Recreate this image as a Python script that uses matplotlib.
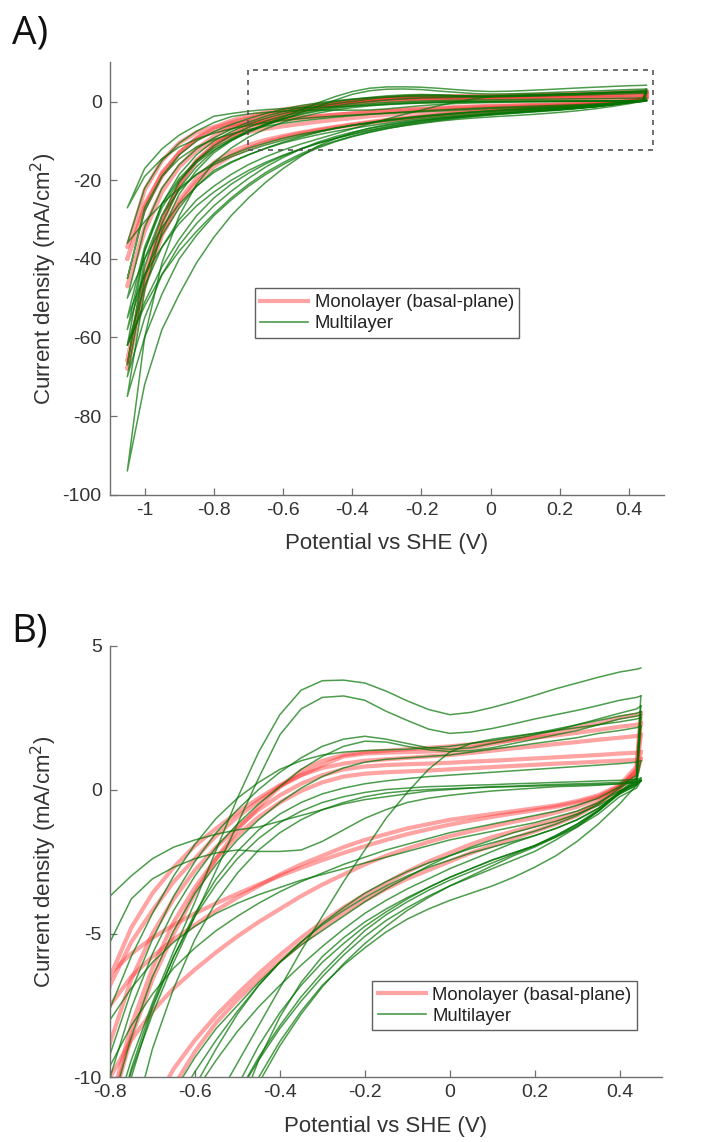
import matplotlib
matplotlib.use('Agg')
import matplotlib.pyplot as plt
from matplotlib.lines import Line2D
from matplotlib.patches import Rectangle

plt.rcParams['font.family'] = ['Liberation Sans', 'DejaVu Sans']
plt.rcParams['axes.unicode_minus'] = False

# potential grid (V vs SHE) shared by every sweep
potential = [-1.05, -1.00, -0.95, -0.90, -0.85, -0.80, -0.75, -0.70, -0.65, -0.60,
             -0.55, -0.50, -0.45, -0.40, -0.35, -0.30, -0.25, -0.20, -0.15, -0.10,
             -0.05, 0.00, 0.05, 0.10, 0.15, 0.20, 0.25, 0.30, 0.35, 0.40, 0.44, 0.45]

# current density (mA/cm2), cathodic (lower) and anodic (upper) branch per CV
mono_lower = [
    [-40, -27, -19, -13, -9.5, -7.5, -6.5, -5.8, -5.2, -4.7, -4.2, -3.75, -3.35, -2.95, -2.6, -2.3,
     -2.0, -1.75, -1.55, -1.35, -1.2, -1.05, -0.95, -0.85, -0.75, -0.65, -0.55, -0.4, -0.2, 0.15, 0.8, 2.65],
    [-47, -32, -22.5, -16.5, -12.5, -10, -8.7, -7.7, -6.9, -6.25, -5.65, -5.1, -4.6, -4.15, -3.7, -3.3,
     -2.95, -2.6, -2.3, -2.05, -1.82, -1.62, -1.45, -1.28, -1.12, -0.98, -0.8, -0.6, -0.3, 0.1, 0.6, 1.3],
    [-66, -45, -33, -25, -19.5, -15.5, -12.8, -11, -9.7, -8.7, -7.85, -7.1, -6.4, -5.75, -5.15, -4.6,
     -4.1, -3.65, -3.25, -2.85, -2.5, -2.2, -1.9, -1.65, -1.45, -1.25, -1.05, -0.8, -0.45, 0.05, 0.5, 1.05],
    [-68, -47, -34, -26, -20.5, -16.5, -13.8, -11.8, -10.3, -9.1, -8.1, -7.3, -6.6, -5.95, -5.35, -4.8,
     -4.3, -3.85, -3.45, -3.1, -2.8, -2.5, -2.2, -1.95, -1.7, -1.45, -1.2, -0.9, -0.5, 0.05, 0.7, 2.3],
    [-37, -22.5, -15, -10.5, -7.8, -6.4, -5.7, -5.15, -4.7, -4.3, -3.95, -3.62, -3.3, -3.0, -2.72, -2.45,
     -2.2, -1.97, -1.75, -1.55, -1.38, -1.22, -1.08, -0.95, -0.83, -0.72, -0.6, -0.45, -0.25, 0.1, 0.6, 1.9],
]
mono_upper = [
    [-40, -27, -18, -13, -9.5, -6.8, -5.3, -4.2, -3.2, -2.4, -1.6, -0.95, -0.4, 0.1, 0.5, 0.85,
     1.15, 1.25, 1.28, 1.3, 1.32, 1.35, 1.45, 1.58, 1.72, 1.86, 2.0, 2.15, 2.3, 2.5, 2.6, 2.65],
    [-47, -33, -23, -16.5, -12, -8.8, -6.6, -5.0, -3.8, -2.8, -2.0, -1.3, -0.7, -0.2, 0.2, 0.5,
     0.7, 0.8, 0.85, 0.88, 0.9, 0.93, 0.97, 1.0, 1.04, 1.08, 1.12, 1.16, 1.2, 1.25, 1.28, 1.3],
    [-66, -44, -30, -21, -15, -11, -8.2, -6.2, -4.6, -3.4, -2.4, -1.6, -0.95, -0.45, -0.05, 0.25,
     0.45, 0.55, 0.6, 0.63, 0.66, 0.7, 0.74, 0.78, 0.82, 0.86, 0.9, 0.93, 0.97, 1.0, 1.03, 1.05],
    [-68, -46, -31, -21, -15, -11.2, -8.6, -6.6, -5.0, -3.6, -2.4, -1.4, -0.6, 0.1, 0.65, 1.0,
     1.2, 1.3, 1.35, 1.4, 1.45, 1.5, 1.57, 1.65, 1.73, 1.8, 1.88, 1.97, 2.07, 2.18, 2.25, 2.3],
    [-37, -26, -18.5, -13, -9.2, -6.5, -4.8, -3.6, -2.7, -1.95, -1.35, -0.8, -0.3, 0.15, 0.5, 0.75,
     0.9, 1.0, 1.05, 1.1, 1.15, 1.2, 1.27, 1.35, 1.43, 1.5, 1.58, 1.65, 1.73, 1.8, 1.86, 1.9],
]

multi_lower = [
    [-55, -44, -37, -31, -26.5, -23, -20, -17.5, -15.4, -13.6, -12, -10.6, -9.4, -8.3, -7.35, -6.5,
     -5.75, -5.1, -4.55, -4.1, -3.7, -3.35, -3.05, -2.75, -2.45, -2.15, -1.75, -1.3, -0.75, -0.1, 0.2, 0.3],
    [-58, -44, -34, -27, -21.5, -17.5, -15.3, -13.5, -11.9, -10.5, -9.4, -8.4, -7.55, -6.8, -6.1, -5.45,
     -4.85, -4.3, -3.85, -3.45, -3.1, -2.75, -2.45, -2.15, -1.85, -1.6, -1.35, -1.05, -0.65, -0.1, 0.4, 3.25],
    [-62, -52, -44, -38, -33, -28.5, -24.5, -21, -18, -15.5, -13.3, -11.5, -10.0, -8.75, -7.7, -6.8,
     -6.1, -5.5, -4.95, -4.5, -4.15, -3.85, -3.6, -3.35, -3.05, -2.7, -2.3, -1.8, -1.2, -0.5, 0.15, 2.5],
    [-27, -19, -14.5, -11.5, -9.5, -8.0, -6.9, -6.0, -5.3, -4.75, -4.3, -3.95, -3.65, -3.4, -3.15, -2.95,
     -2.75, -2.55, -2.35, -2.15, -1.95, -1.75, -1.6, -1.45, -1.3, -1.15, -0.95, -0.75, -0.45, -0.05, 0.2, 0.35],
    [-36, -30.5, -26, -22, -18.5, -16, -14, -12.4, -11, -9.8, -8.7, -7.7, -6.8, -6.0, -5.3, -4.7,
     -4.2, -3.75, -3.35, -3.0, -2.7, -2.45, -2.2, -2.0, -1.8, -1.6, -1.35, -1.05, -0.65, -0.15, 0.15, 0.3],
    [-50, -40, -32, -26, -21.5, -18, -15.5, -13.5, -11.8, -10.3, -9.0, -7.8, -6.8, -6.0, -5.3, -4.65,
     -4.1, -3.6, -3.2, -2.85, -2.55, -2.3, -2.05, -1.85, -1.65, -1.45, -1.2, -0.9, -0.5, 0.05, 0.4, 2.9],
    [-62, -51, -42, -35, -29, -24.5, -21, -18.2, -15.8, -13.8, -12.1, -10.6, -9.3, -8.2, -7.2, -6.35,
     -5.6, -4.9, -4.35, -3.9, -3.5, -3.15, -2.85, -2.55, -2.25, -1.95, -1.6, -1.2, -0.7, -0.05, 0.3, 2.6],
    [-67, -40, -29, -22.5, -18.5, -15.5, -13.5, -11.8, -10.5, -9.3, -8.3, -7.5, -6.7, -6.0, -5.4, -4.9,
     -4.4, -3.9, -3.45, -3.05, -2.65, -2.3, -2.0, -1.75, -1.5, -1.3, -1.1, -0.85, -0.55, -0.15, 0.3, 2.2],
    [-70, -55, -44, -36.5, -31, -26.5, -22.8, -19.5, -16.6, -14.2, -12.1, -10.3, -8.9, -7.75, -6.8, -6.0,
     -5.35, -4.75, -4.25, -3.8, -3.4, -3.05, -2.75, -2.45, -2.2, -1.95, -1.6, -1.2, -0.75, -0.15, 0.15, 0.4],
    [-75, -60, -49, -40, -34, -29, -25, -21.5, -18.5, -16, -13.7, -11.8, -10.2, -8.9, -7.8, -6.85,
     -6.05, -5.35, -4.75, -4.2, -3.75, -3.35, -3.0, -2.65, -2.3, -2.0, -1.65, -1.25, -0.75, -0.1, 0.25, 1.0],
    [-94, -72, -58, -49, -41, -34.5, -29, -24.5, -20.5, -17, -14, -11.3, -9.4, -7.9, -6.7, -5.8,
     -5.15, -4.6, -4.15, -3.75, -3.4, -3.05, -2.75, -2.45, -2.2, -1.95, -1.65, -1.3, -0.85, -0.25, 0.05, 0.3],
    [-45, -27, -19, -14.5, -11.5, -9.6, -8.2, -7.1, -6.2, -5.5, -4.9, -4.4, -3.95, -3.55, -3.2, -2.9,
     -2.6, -2.35, -2.1, -1.9, -1.7, -1.5, -1.35, -1.2, -1.05, -0.9, -0.75, -0.55, -0.3, 0.1, 0.5, 2.7],
]
multi_upper = [
    [-55, -37, -26, -19.5, -15, -11.8, -9.4, -7.4, -5.6, -3.9, -2.1, -0.3, 1.3, 2.6, 3.45, 3.78,
     3.8, 3.7, 3.42, 3.08, 2.78, 2.6, 2.68, 2.85, 3.05, 3.27, 3.5, 3.7, 3.9, 4.08, 4.18, 4.22],
    [-58, -38, -27, -20, -15.5, -12.3, -9.8, -7.8, -6.0, -4.4, -2.8, -1.2, 0.4, 1.9, 2.8, 3.2,
     3.25, 3.1, 2.72, 2.4, 2.1, 1.95, 2.0, 2.12, 2.28, 2.45, 2.6, 2.75, 2.92, 3.1, 3.2, 3.25],
    [-62, -47, -37, -30, -25, -21.5, -18.5, -16, -14, -12.3, -10.8, -9.5, -8.2, -6.9, -5.6, -4.4,
     -3.2, -2.1, -1.0, -0.1, 0.7, 1.3, 1.6, 1.75, 1.85, 1.95, 2.05, 2.15, 2.25, 2.35, 2.45, 2.5],
    [-27, -17, -12, -8.5, -6, -3.7, -3.0, -2.4, -2.0, -1.75, -1.55, -1.4, -1.3, -1.1, -0.9, -0.7,
     -0.5, -0.35, -0.25, -0.15, -0.05, 0.0, 0.05, 0.1, 0.12, 0.15, 0.18, 0.2, 0.22, 0.25, 0.3, 0.35],
    [-36, -22, -15, -10.5, -7.5, -5.3, -3.8, -3.1, -2.7, -2.4, -2.2, -2.1, -2.15, -2.15, -2.1, -1.8,
     -1.4, -1.0, -0.7, -0.45, -0.3, -0.2, -0.12, -0.05, 0.0, 0.05, 0.1, 0.12, 0.15, 0.2, 0.25, 0.3],
    [-50, -32, -22, -16, -12, -9.2, -7.0, -5.2, -3.7, -2.5, -1.5, -0.7, 0.0, 0.6, 1.1, 1.5,
     1.75, 1.85, 1.75, 1.6, 1.45, 1.4, 1.45, 1.6, 1.75, 1.9, 2.05, 2.25, 2.45, 2.65, 2.8, 2.9],
    [-62, -38, -26, -18.5, -13.5, -10, -7.6, -5.7, -4.2, -3.0, -2.0, -1.2, -0.5, 0.1, 0.7, 1.15,
     1.5, 1.68, 1.65, 1.5, 1.38, 1.32, 1.35, 1.45, 1.6, 1.75, 1.9, 2.05, 2.25, 2.45, 2.55, 2.6],
    [-67, -42, -29, -20.5, -15, -11.2, -8.6, -6.5, -4.9, -3.6, -2.6, -1.75, -1.05, -0.45, 0.05, 0.45,
     0.75, 0.95, 1.05, 1.1, 1.15, 1.2, 1.3, 1.4, 1.5, 1.6, 1.7, 1.8, 1.95, 2.05, 2.15, 2.2],
    [-70, -45, -31, -22, -16.5, -12.5, -9.7, -7.5, -5.8, -4.4, -3.3, -2.4, -1.7, -1.15, -0.75, -0.45,
     -0.25, -0.1, 0.0, 0.05, 0.1, 0.12, 0.15, 0.17, 0.2, 0.22, 0.25, 0.27, 0.3, 0.32, 0.35, 0.4],
    [-75, -48, -33, -23.5, -17.5, -13, -10, -7.6, -5.8, -4.3, -3.1, -2.15, -1.4, -0.85, -0.45, -0.15,
     0.05, 0.2, 0.3, 0.38, 0.45, 0.5, 0.55, 0.6, 0.65, 0.7, 0.75, 0.8, 0.85, 0.9, 0.95, 1.0],
    [-94, -60, -41, -29, -21, -15.5, -11.8, -9.0, -6.9, -5.2, -3.9, -2.9, -2.1, -1.5, -1.05, -0.7,
     -0.45, -0.25, -0.12, -0.05, 0.0, 0.03, 0.06, 0.08, 0.1, 0.12, 0.14, 0.16, 0.18, 0.2, 0.25, 0.3],
    [-45, -28, -19, -13.5, -10, -7.6, -5.8, -4.3, -3.0, -1.9, -1.0, -0.3, 0.25, 0.7, 1.0, 1.2,
     1.3, 1.35, 1.38, 1.4, 1.45, 1.5, 1.6, 1.7, 1.82, 1.95, 2.1, 2.25, 2.4, 2.55, 2.65, 2.7],
]

labels = ['Monolayer (basal-plane)', 'Multilayer']
xticks = [-1, -0.8, -0.6, -0.4, -0.2, 0, 0.2, 0.4]
yticks_a = [-100, -80, -60, -40, -20, 0]
yticks_b = [-10, -5, 0, 5]
zoom_box = [-0.7, 0.47, -12.3, 8]   # x0, x1, y0, y1 of the region shown in B

red = (1.0, 0.2, 0.2)
green = (0.0, 0.45, 0.0)
txt = '#333333'


def draw_cvs(ax):
    for lo, up in zip(mono_lower, mono_upper):
        ax.plot(potential[::-1] + potential, lo[::-1] + up, color=red, alpha=0.45, lw=3)
    for lo, up in zip(multi_lower, multi_upper):
        ax.plot(potential[::-1] + potential, lo[::-1] + up, color=green, alpha=0.7, lw=1.1)


def style(ax, xlim, ylim, xt, yt):
    ax.set_xlim(xlim)
    ax.set_ylim(ylim)
    ax.set_xticks(xt)
    ax.set_xticklabels(['%g' % v for v in xt])
    ax.set_yticks(yt)
    ax.set_yticklabels(['%g' % v for v in yt])
    for s in ['top', 'right']:
        ax.spines[s].set_visible(False)
    for s in ['left', 'bottom']:
        ax.spines[s].set_color('#707070')
        ax.spines[s].set_linewidth(1.0)
    ax.tick_params(direction='in', length=5, width=0.9, color='#707070',
                   labelcolor=txt, labelsize=14)
    ax.tick_params(axis='x', pad=5)
    ax.tick_params(axis='y', pad=6)
    ax.set_xlabel('Potential vs SHE (V)', fontsize=16, color=txt)
    ax.set_ylabel('Current density (mA/cm$^2$)', fontsize=16, color=txt)
    ax.xaxis.set_label_coords(0.5, -0.09)
    ax.yaxis.set_label_coords(-0.092, 0.5)


def add_legend(ax, x0, y1):
    handles = [Line2D([], [], color=red, alpha=0.45, lw=3),
               Line2D([], [], color=green, alpha=0.7, lw=1.2)]
    leg = ax.legend(handles, labels, loc='upper left', bbox_to_anchor=(x0, y1),
                    borderaxespad=0, fontsize=13.3, handlelength=2.6, handletextpad=0.35,
                    labelspacing=0.22, borderpad=0.3, fancybox=False, framealpha=1)
    leg.get_frame().set_edgecolor('#606060')
    leg.get_frame().set_linewidth(1.0)
    for t in leg.get_texts():
        t.set_color('#222222')


fig = plt.figure(figsize=(7.21, 11.42), dpi=100)

ax1 = fig.add_axes([0.1526, 0.5669, 0.768, 0.3784])
draw_cvs(ax1)
style(ax1, (-1.1, 0.5), (-100, 10), xticks, yticks_a)
ax1.add_patch(Rectangle((zoom_box[0], zoom_box[2]), zoom_box[1] - zoom_box[0],
                        zoom_box[3] - zoom_box[2], fill=False, ec='#555555',
                        lw=1.2, ls=(0, (3, 3)), zorder=5))
add_legend(ax1, 0.261, 0.477)

ax2 = fig.add_axes([0.1526, 0.0565, 0.7656, 0.3782])
draw_cvs(ax2)
style(ax2, (-0.8, 0.5), (-10, 5), xticks[1:], yticks_b)
add_legend(ax2, 0.4746, 0.2234)

fig.text(0.016, 0.9615, 'A)', fontsize=28, family='Open Sans', color='#111111')
fig.text(0.016, 0.438, 'B)', fontsize=28, family='Open Sans', color='#111111')

fig.savefig('out.png', dpi=100)
